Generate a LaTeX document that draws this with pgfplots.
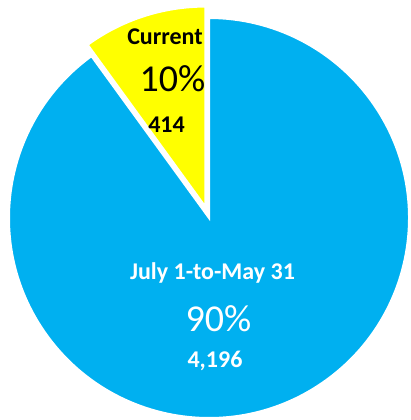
\documentclass[border=0pt]{standalone}
\usepackage{pgfplots}
\pgfplotsset{compat=1.18}
\usepackage{pgfplotstable}
\usepackage{fontspec}
\setmainfont{Carlito}
\definecolor{pieblue}{RGB}{0,176,240}
\definecolor{pieyellow}{RGB}{255,255,0}

% share of each slice (percent) and count
\pgfplotstableread[col sep=comma]{
label,pct,count
Current,10,414
July 1-to-May 31,90,4196
}\piedata

\begin{document}
\begin{tikzpicture}
\pgfplotstablegetelem{0}{pct}\of\piedata
\pgfmathsetmacro{\angA}{\pgfplotsretval*3.6}
\pgfmathsetmacro{\endA}{90+\angA}
\pgfmathsetmacro{\midA}{90+\angA/2}
\begin{axis}[
  hide axis,
  scale only axis,
  width=410pt, height=420pt,
  xmin=0, xmax=410, ymin=0, ymax=420,
  clip=false,
]
% main slice
\fill[pieblue, draw=white, line width=2pt]
  (axis cs:209,202) -- ++(\endA:200pt) arc[start angle=\endA, end angle=450, radius=200pt] -- cycle;
% exploded slice
\fill[pieyellow, draw=white, line width=2pt]
  (axis cs:209,202) ++(\midA:12pt) -- ++(90:200pt) arc[start angle=90, end angle=\endA, radius=200pt] -- cycle;

\node[anchor=base, font=\bfseries\fontsize{24}{28}\selectfont] at (axis cs:165,375) {Current};
\node[anchor=base, font=\fontsize{38}{44}\selectfont] at (axis cs:172.5,328) {10\%};
\node[anchor=base, font=\bfseries\fontsize{24}{28}\selectfont] at (axis cs:166.5,287) {414};

\node[anchor=base, text=white, font=\bfseries\fontsize{24}{28}\selectfont] at (axis cs:212.5,140) {July 1-to-May 31};
\node[anchor=base, text=white, font=\fontsize{38}{44}\selectfont] at (axis cs:218.5,88) {90\%};
\node[anchor=base, text=white, font=\bfseries\fontsize{24}{28}\selectfont] at (axis cs:215,52) {4,196};
\end{axis}
% arcs put their control points in the bounding box; keep it to the axis area
\pgfresetboundingbox
\path[use as bounding box] (0,0) rectangle (410pt,420pt);
\end{tikzpicture}
\end{document}
